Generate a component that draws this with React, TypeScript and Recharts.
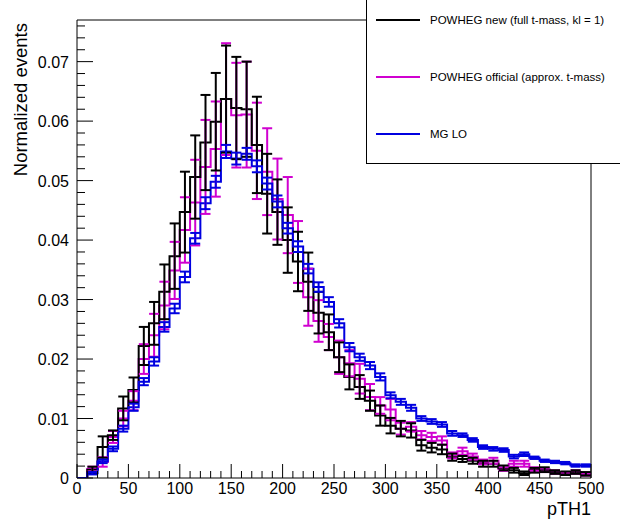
import React from 'react';
import { ComposedChart, Line, Scatter, ErrorBar, XAxis, YAxis, ReferenceArea } from 'recharts';

// 50 bins of width 10 on pTH1 in [0, 500]
const BIN_WIDTH = 10;

const powhegNew = [
  0, 0.0014, 0.0052, 0.0072, 0.0117, 0.0148, 0.0222, 0.0260, 0.0313, 0.0373,
  0.0447, 0.0506, 0.0564, 0.0599, 0.0637, 0.0622, 0.0620, 0.0560, 0.0478, 0.0447,
  0.0400, 0.0364, 0.0330, 0.0278, 0.0245, 0.0203, 0.0170, 0.0153, 0.0130, 0.0105,
  0.0088, 0.0083, 0.0080, 0.0055, 0.0051, 0.0048, 0.0035, 0.0032, 0.0029, 0.0024,
  0.0024, 0.0017, 0.0013, 0.0008, 0.0013, 0.0014, 0.0010, 0.0008, 0.0010, 0.0007,
];
const powhegNewErr = [
  0, 0.0005, 0.0018, 0.0008, 0.0020, 0.0021, 0.0032, 0.0036, 0.0046, 0.0055,
  0.0068, 0.0070, 0.0080, 0.0082, 0.0090, 0.0086, 0.0080, 0.0081, 0.0067, 0.0055,
  0.0055, 0.0050, 0.0049, 0.0035, 0.0030, 0.0025, 0.0021, 0.0020, 0.0017, 0.0017,
  0.0013, 0.0013, 0.0012, 0.0009, 0.0008, 0.0008, 0.0006, 0.0005, 0.0005, 0.0005,
  0.0005, 0.0004, 0.0004, 0.0003, 0.0004, 0.0004, 0.0003, 0.0003, 0.0003, 0.0003,
];

const powhegOfficial = [
  0, 0.0015, 0.0027, 0.0069, 0.0100, 0.0130, 0.0200, 0.0240, 0.0290, 0.0349,
  0.0417, 0.0463, 0.0523, 0.0553, 0.0637, 0.0610, 0.0611, 0.0550, 0.0515, 0.0469,
  0.0442, 0.0380, 0.0304, 0.0264, 0.0237, 0.0203, 0.0193, 0.0167, 0.0136, 0.0122,
  0.0115, 0.0083, 0.0086, 0.0072, 0.0069, 0.0063, 0.0038, 0.0045, 0.0036, 0.0027,
  0.0029, 0.0015, 0.0024, 0.0024, 0.0015, 0.0013, 0.0010, 0.0008, 0.0010, 0.0006,
];
const powhegOfficialErr = [
  0, 0.0004, 0.0008, 0.0010, 0.0013, 0.0016, 0.0025, 0.0036, 0.0040, 0.0048,
  0.0055, 0.0072, 0.0079, 0.0080, 0.0094, 0.0088, 0.0089, 0.0081, 0.0073, 0.0068,
  0.0064, 0.0052, 0.0048, 0.0035, 0.0022, 0.0028, 0.0022, 0.0025, 0.0022, 0.0014,
  0.0018, 0.0010, 0.0008, 0.0007, 0.0007, 0.0007, 0.0005, 0.0006, 0.0005, 0.0004,
  0.0005, 0.0003, 0.0005, 0.0005, 0.0003, 0.0003, 0.0003, 0.0002, 0.0003, 0.0002,
];

const mgLO = [
  0, 0.0008, 0.0028, 0.0049, 0.0083, 0.0119, 0.0162, 0.0196, 0.0254, 0.0285,
  0.0338, 0.0403, 0.0462, 0.0498, 0.0549, 0.0537, 0.0545, 0.0524, 0.0495, 0.0465,
  0.0420, 0.0389, 0.0352, 0.0321, 0.0296, 0.0260, 0.0220, 0.0203, 0.0189, 0.0170,
  0.0139, 0.0128, 0.0118, 0.0100, 0.0095, 0.0090, 0.0075, 0.0072, 0.0064, 0.0052,
  0.0049, 0.0047, 0.0036, 0.0040, 0.0034, 0.0029, 0.0027, 0.0025, 0.0021, 0.0021,
];
const mgLOErr = [
  0, 0.0002, 0.0003, 0.0004, 0.0005, 0.0006, 0.0006, 0.0007, 0.0008, 0.0008,
  0.0009, 0.0009, 0.0010, 0.0010, 0.0011, 0.0010, 0.0010, 0.0010, 0.0010, 0.0010,
  0.0009, 0.0009, 0.0008, 0.0008, 0.0008, 0.0007, 0.0007, 0.0006, 0.0006, 0.0006,
  0.0005, 0.0005, 0.0005, 0.0004, 0.0004, 0.0004, 0.0004, 0.0003, 0.0003, 0.0003,
  0.0003, 0.0003, 0.0003, 0.0003, 0.0002, 0.0002, 0.0002, 0.0002, 0.0002, 0.0002,
];

const seriesNames = [
  'POWHEG new (full t-mass, kl = 1)',
  'POWHEG official (approx. t-mass)',
  'MG LO',
];
const seriesColors = ['#000000', '#d000d0', '#0000e0'];

const xMajorLabels = ['0', '50', '100', '150', '200', '250', '300', '350', '400', '450', '500'];
const yMajorLabels = ['0', '0.01', '0.02', '0.03', '0.04', '0.05', '0.06', '0.07'];
const X_MAX = 500;
const Y_MAX = 0.077;

const xTicks = Array.from({ length: 51 }, (_, i) => i * 10);
const yTicks = Array.from({ length: 39 }, (_, i) => +(i * 0.002).toFixed(3));

const FONT = '"Liberation Sans", Arial, Helvetica, sans-serif';

const stepData = (vals: number[]) => {
  const rows = vals.map((v, i) => ({ x: i * BIN_WIDTH, y: v }));
  rows.push({ x: vals.length * BIN_WIDTH, y: vals[vals.length - 1] });
  return rows;
};
const errData = (vals: number[], errs: number[]) =>
  vals.map((v, i) => ({ x: i * BIN_WIDTH + BIN_WIDTH / 2, y: v, err: errs[i] }));

const XTick = (props: any) => {
  const { x, y, payload } = props;
  const v = payload.value;
  const major = Math.abs(v % 50) < 1e-6;
  const label = xMajorLabels.find((l) => Number(l) === v);
  return (
    <g>
      <line x1={x} x2={x} y1={y} y2={y - (major ? 14 : 7)} stroke="#000" strokeWidth={1} />
      {major && label !== undefined ? (
        <text x={x} y={y + 16} textAnchor="middle" fontSize={16} fontFamily={FONT} fill="#000">
          {label}
        </text>
      ) : null}
    </g>
  );
};

const YTick = (props: any) => {
  const { x, y, payload } = props;
  const v = payload.value;
  const r = v / 0.01;
  const major = Math.abs(r - Math.round(r)) < 1e-6;
  const label = major ? yMajorLabels[Math.round(r)] : undefined;
  return (
    <g>
      <line x1={x} x2={x + (major ? 16 : 8)} y1={y} y2={y} stroke="#000" strokeWidth={1} />
      {label !== undefined ? (
        <text x={x - 8} y={y + 6} textAnchor="end" fontSize={16} fontFamily={FONT} fill="#000">
          {label}
        </text>
      ) : null}
    </g>
  );
};

const YTitle = (props: any) => {
  const vb = props.viewBox || { x: 0, y: 20 };
  const tx = vb.x + 27;
  const ty = vb.y + 3;
  return (
    <text
      x={tx}
      y={ty}
      transform={`rotate(-90 ${tx} ${ty})`}
      textAnchor="end"
      fontSize={18.5}
      fontFamily={FONT}
      fill="#000"
    >
      Normalized events
    </text>
  );
};

const XTitle = (props: any) => {
  const vb = props.viewBox || { x: 77, y: 478, width: 514 };
  return (
    <text x={vb.x + vb.width} y={vb.y + 37} textAnchor="end" fontSize={18} fontFamily={FONT} fill="#000">
      pTH1
    </text>
  );
};

const NoShape = () => <g />;

export default function App() {
  const sets = [
    { vals: powhegOfficial, errs: powhegOfficialErr, color: seriesColors[1], key: 'off' },
    { vals: powhegNew, errs: powhegNewErr, color: seriesColors[0], key: 'new' },
    { vals: mgLO, errs: mgLOErr, color: seriesColors[2], key: 'mg' },
  ];
  return (
    <div style={{ position: 'absolute', left: 0, top: 0, width: 620, height: 520, background: '#fff', overflow: 'hidden' }}>
      <ComposedChart width={620} height={520} margin={{ top: 20, right: 29, bottom: 8, left: 0 }}>
        <XAxis
          type="number"
          dataKey="x"
          domain={[0, X_MAX]}
          ticks={xTicks}
          interval={0}
          allowDataOverflow
          axisLine={false}
          tickLine={false}
          tickSize={0}
          tickMargin={0}
          height={34}
          tick={<XTick />}
          label={{ content: <XTitle /> }}
        />
        <YAxis
          type="number"
          dataKey="y"
          domain={[0, Y_MAX]}
          ticks={yTicks}
          interval={0}
          allowDataOverflow
          axisLine={false}
          tickLine={false}
          tickSize={0}
          tickMargin={0}
          width={77}
          tick={<YTick />}
          label={{ content: <YTitle /> }}
        />
        <ReferenceArea x1={0} x2={X_MAX} y1={0} y2={Y_MAX} fill="none" stroke="#000" strokeWidth={1} ifOverflow="visible" />
        {sets.map((s) => (
          <Line
            key={'l' + s.key}
            data={stepData(s.vals)}
            dataKey="y"
            type="stepAfter"
            stroke={s.color}
            strokeWidth={2}
            dot={false}
            activeDot={false}
            isAnimationActive={false}
          />
        ))}
        {sets.map((s) => (
          <Scatter
            key={'e' + s.key}
            data={errData(s.vals, s.errs)}
            dataKey="y"
            fill={s.color}
            shape={<NoShape />}
            isAnimationActive={false}
          >
            <ErrorBar dataKey="err" direction="y" width={5} strokeWidth={2} stroke={s.color} isAnimationActive={false} />
          </Scatter>
        ))}
      </ComposedChart>
      <div
        style={{
          position: 'absolute',
          left: 366,
          top: -6,
          width: 300,
          height: 170,
          boxSizing: 'border-box',
          border: '1px solid #000',
          background: '#fff',
        }}
      >
        {seriesNames.map((name, i) => (
          <div
            key={name}
            style={{ position: 'absolute', left: 9, top: 25 + i * 57 - 8, height: 16, display: 'flex', alignItems: 'center' }}
          >
            <div style={{ width: 44, height: 2, background: seriesColors[i] }} />
            <span style={{ marginLeft: 10, fontFamily: FONT, fontSize: 11.5, color: '#000', whiteSpace: 'nowrap' }}>{name}</span>
          </div>
        ))}
      </div>
    </div>
  );
}
